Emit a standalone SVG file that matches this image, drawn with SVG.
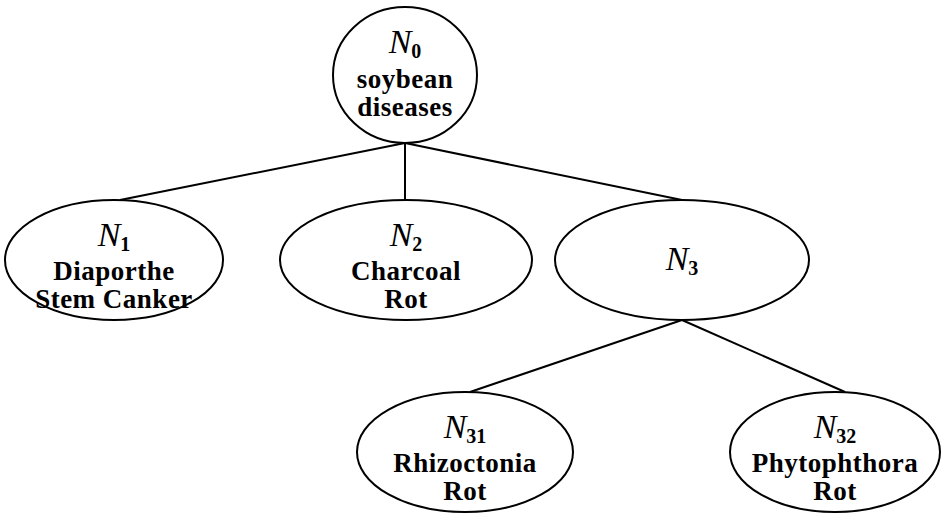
<svg xmlns="http://www.w3.org/2000/svg" width="945" height="522" viewBox="0 0 945 522">
<style>
.node ellipse{fill:#fff;stroke:#000;stroke-width:2}
.t{font-family:"Liberation Serif","Times New Roman",serif;font-weight:bold;font-size:27px;fill:#000;text-anchor:middle;letter-spacing:0.5px}
.n{font-family:"Liberation Serif","Times New Roman",serif;font-style:italic;font-size:34px;fill:#000;text-anchor:middle}
.s{font-style:normal;font-weight:bold;font-size:20px}
#connectors line{stroke:#000;stroke-width:2}
</style>
<rect width="945" height="522" fill="#fff"/>
<g id="connectors">
<line x1="405" y1="143" x2="120" y2="200"/>
<line x1="405" y1="143" x2="405" y2="200"/>
<line x1="405" y1="143" x2="682" y2="200"/>
<line x1="682" y1="320" x2="470" y2="392"/>
<line x1="682" y1="320" x2="845" y2="392"/>
</g>
<g id="N0" class="node">
<ellipse cx="405" cy="75" rx="72" ry="68"/>
<text class="n" x="405" y="53">N<tspan class="s" dy="5">0</tspan></text>
<text class="t" x="405" y="88">soybean</text>
<text class="t" x="405" y="116">diseases</text>
</g>
<g id="N1" class="node">
<ellipse cx="114" cy="260" rx="109" ry="60"/>
<text class="n" x="114" y="246">N<tspan class="s" dy="5">1</tspan></text>
<text class="t" x="114" y="280">Diaporthe</text>
<text class="t" x="114" y="308">Stem Canker</text>
</g>
<g id="N2" class="node">
<ellipse cx="406" cy="260" rx="126" ry="60"/>
<text class="n" x="406" y="246">N<tspan class="s" dy="5">2</tspan></text>
<text class="t" x="406" y="280">Charcoal</text>
<text class="t" x="406" y="308">Rot</text>
</g>
<g id="N3" class="node">
<ellipse cx="682" cy="260" rx="127" ry="60"/>
<text class="n" x="682" y="270">N<tspan class="s" dy="5">3</tspan></text>
</g>
<g id="N31" class="node">
<ellipse cx="465" cy="452" rx="108" ry="60"/>
<text class="n" x="465" y="438">N<tspan class="s" dy="5">31</tspan></text>
<text class="t" x="465" y="472">Rhizoctonia</text>
<text class="t" x="465" y="500">Rot</text>
</g>
<g id="N32" class="node">
<ellipse cx="835" cy="452" rx="105" ry="60"/>
<text class="n" x="835" y="438">N<tspan class="s" dy="5">32</tspan></text>
<text class="t" x="835" y="472">Phytophthora</text>
<text class="t" x="835" y="500">Rot</text>
</g>
</svg>
